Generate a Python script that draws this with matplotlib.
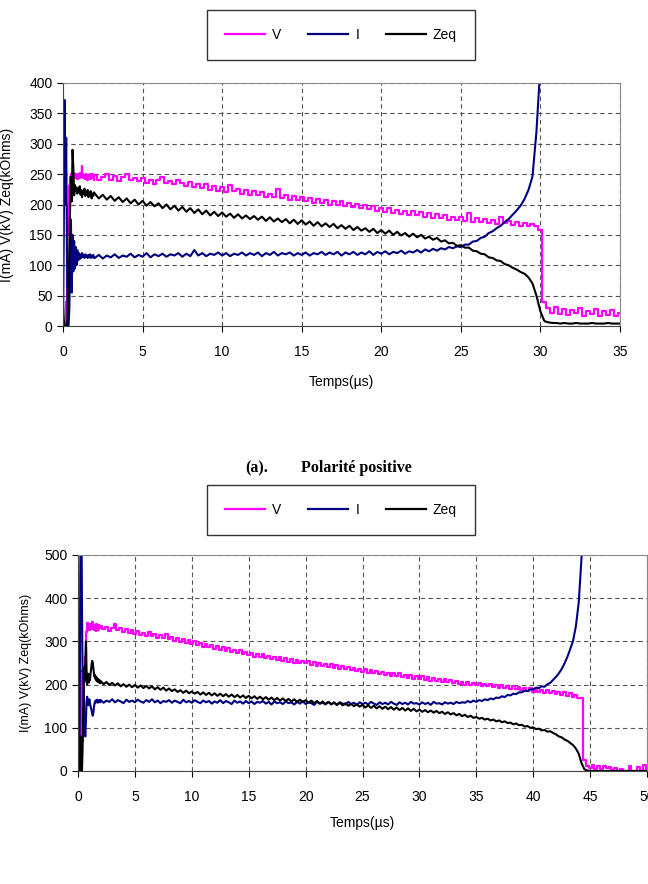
import numpy as np
import matplotlib.pyplot as plt
from matplotlib.lines import Line2D

plt.rcParams['font.family'] = ['Liberation Sans', 'DejaVu Sans']

# time grids (µs): fine sampling for the start, coarser afterwards
t_early = np.arange(40) * 0.05
dt = 0.25

# ---- (a) polarite positive ----
v_a_early = [0, 0, 0, 0, 40, 90, 150, 200, 230, 245, 240, 250, 245, 252, 248, 244, 250, 246, 242, 250,
             248, 244, 252, 246, 264, 250, 244, 248, 242, 250, 246, 240, 248, 244, 250, 242, 246, 250, 244, 240]
v_a_late = [248, 240, 246, 250, 241, 247, 239, 245, 250, 240, 244, 238,
            243, 236, 241, 234, 240, 245, 235, 239, 233, 240, 236, 230,
            237, 229, 234, 227, 233, 224, 230, 222,
            228, 221, 232, 222, 226, 218, 224, 216,
            222, 215, 220, 212, 218, 213, 226, 211, 215, 208, 214, 207,
            212, 205, 210, 203, 209, 202, 207, 200, 206, 199, 205, 198,
            203, 196, 201, 194, 199, 192, 197, 190,
            195, 188, 194, 186, 191, 184, 190, 183,
            189, 182, 187, 180, 186, 178, 184, 177, 182, 175, 180, 174,
            180, 173, 186, 172, 178, 171, 176, 170,
            175, 168, 180, 169, 173, 166, 171, 165, 170, 164, 168, 164,
            158, 40, 30, 22, 32, 20, 28, 18, 26, 21, 30, 17, 25, 19, 28, 16, 24, 18, 27, 17, 22]

i_a_early = [0, 150, 372, 200, 310, 120, 0, 0, 30, 110, 175, 55, 150, 90, 140, 95, 130, 100, 125, 108,
             120, 110, 118, 112, 120, 114, 117, 112, 118, 114, 116, 112, 117, 113, 118, 112, 116, 113, 117, 112]
i_a_late = [112, 117, 111, 116, 113, 118, 112, 116, 114, 119, 113, 117,
            114, 120, 113, 118, 115, 119, 114, 118, 116, 120, 114, 119,
            115, 125, 116, 120, 115, 119, 117, 121,
            116, 120, 115, 119, 117, 121, 116, 120,
            117, 121, 115, 120, 117, 122, 116, 120, 118, 121, 116, 120,
            117, 121, 116, 120, 118, 122, 117, 121, 118, 122, 116, 121,
            118, 122, 117, 121, 118, 123, 117, 122,
            119, 123, 118, 122, 120, 124, 119, 123,
            121, 125, 121, 126, 123, 127, 124, 128, 126, 130, 128, 131,
            130, 134, 134, 139, 140, 145, 147, 153,
            156, 161, 165, 171, 176, 183, 190, 198, 209, 224, 246, 320,
            430]

z_a_early = [35, 10, 0, 0, 0, 0, 20, 60, 130, 200, 245, 205, 290, 260, 215, 232, 222, 228, 218, 226,
             220, 230, 216, 224, 212, 222, 218, 226, 214, 220, 216, 224, 212, 220, 214, 222, 210, 218, 214, 220]
z_a_late = [218, 210, 216, 208, 214, 206, 212, 204, 210, 202, 208, 200,
            206, 198, 204, 197, 202, 194, 200, 192, 198, 190, 196, 188,
            194, 186, 192, 184, 190, 182, 188, 181,
            187, 180, 185, 178, 184, 177, 182, 176,
            181, 175, 180, 173, 179, 172, 177, 171, 176, 169, 175, 168,
            174, 167, 172, 165, 171, 164, 169, 163, 168, 161, 166, 160,
            165, 158, 163, 157, 161, 155, 160, 153,
            158, 152, 157, 150, 155, 149, 153, 147,
            152, 146, 150, 144, 147, 142, 145, 139, 141, 136, 137, 132,
            133, 129, 129, 124, 123, 119, 118, 113,
            112, 108, 107, 102, 100, 96, 93, 89, 86, 80, 70, 50,
            24, 8, 6, 5, 5, 4, 5, 4, 4, 5, 4, 4, 4, 5, 4, 4, 4, 5, 4, 4, 4]

# ---- (b) second polarity ----
v_b_early = [0, 0, 0, 40, 130, 210, 232, 180, 70, 150, 220, 205, 225, 265, 300, 322, 336, 342, 330, 338,
             326, 340, 332, 336, 328, 344, 330, 335, 326, 338, 330, 334, 325, 340, 331, 336, 327, 338, 330, 335]
v_b_late = [336, 328, 333, 325, 331, 340, 326, 330, 322, 328, 320, 326,
            318, 324, 315, 320, 313, 322, 312, 317, 309, 315, 307, 318,
            305, 311, 302, 308, 299, 306, 297, 303,
            294, 300, 291, 297, 288, 294, 286, 292,
            283, 289, 279, 286, 277, 284, 275, 281, 272, 279, 270, 276,
            268, 274, 265, 271, 263, 270, 261, 267, 259, 265, 257, 263,
            255, 261, 253, 259, 251, 257, 249, 255,
            249, 254, 246, 252, 244, 250, 242, 248,
            241, 247, 239, 245, 237, 243, 235, 241, 233, 239, 231, 237,
            230, 236, 228, 234, 226, 232, 224, 230, 223, 228, 221, 227,
            220, 226, 218, 223, 216, 222, 214, 220,
            213, 219, 211, 217, 209, 215, 208, 214, 206, 212, 205, 210,
            203, 209, 202, 207, 200, 206, 199, 204, 198, 204, 197, 202,
            196, 201, 194, 200, 193, 199, 192, 197, 190, 196, 189, 194,
            187, 193, 186, 191, 184, 190, 183, 188, 181, 187, 180, 185,
            178, 184, 176, 182, 174, 180, 172, 176, 168, 170, 25, 12,
            8, 14, 5, 11, 4, 12, 6, 9, 3, 8, 0, 5,
            0, 0, 12, 0, 0, 10, 0, 14, 0]

i_b_early = [0, 0, 0, 120, 450, 620, 600, 380, 230, 235, 190, 120, 85, 80, 120, 160, 172, 165, 152, 160,
             166, 158, 150, 145, 138, 132, 128, 135, 148, 156, 162, 158, 164, 160, 165, 158, 163, 160, 164, 159]
i_b_late = [164, 158, 163, 160, 166, 159, 164, 161, 157, 165, 160, 163,
            159, 165, 161, 158, 164, 160, 166, 159, 163, 157, 162, 160,
            164, 158, 163, 160, 157, 165, 159, 162,
            158, 164, 160, 157, 163, 159, 162, 156,
            161, 158, 164, 157, 162, 159, 155, 163, 158, 161, 156, 162,
            157, 161, 155, 160, 158, 162, 156, 160, 154, 161, 157, 159,
            155, 161, 157, 159, 154, 160, 156, 162,
            155, 159, 157, 153, 160, 156, 158, 154,
            160, 155, 158, 153, 159, 156, 154, 160, 155, 158, 153, 159,
            155, 158, 154, 160, 156, 153, 159, 155, 158, 154, 160, 156,
            153, 159, 155, 158, 154, 160, 156, 157,
            154, 159, 155, 158, 153, 160, 156, 157, 154, 159, 156, 158,
            155, 160, 157, 159, 158, 162, 159, 163, 160, 164, 162, 166,
            164, 168, 166, 170, 169, 173, 171, 176, 175, 179, 178, 182,
            182, 186, 185, 189, 189, 193, 192, 196, 195, 201, 204, 211,
            218, 226, 236, 249, 264, 282, 301, 335, 390, 495, 620]

z_b_early = [0, 0, 0, 0, 30, 80, 20, 0, 50, 130, 200, 240, 210, 260, 300, 235, 200, 212, 225, 205,
             218, 210, 226, 235, 248, 255, 250, 238, 226, 218, 222, 212, 218, 208, 214, 206, 212, 205, 210, 203]
z_b_late = [208, 201, 206, 199, 204, 198, 203, 196, 201, 195, 200, 194,
            199, 193, 198, 192, 197, 191, 196, 189, 194, 188, 193, 186,
            191, 185, 189, 183, 187, 181, 186, 180,
            184, 179, 183, 177, 182, 176, 181, 175,
            180, 174, 179, 173, 178, 172, 177, 171, 176, 170, 175, 169,
            174, 168, 173, 167, 172, 166, 171, 165, 170, 164, 169, 163,
            168, 162, 167, 161, 166, 160, 165, 159,
            164, 158, 163, 157, 162, 156, 161, 155,
            160, 154, 159, 153, 158, 152, 157, 151, 155, 150, 154, 149,
            153, 147, 152, 146, 151, 145, 150, 144, 149, 143, 148, 142,
            147, 141, 146, 140, 145, 139, 144, 138,
            142, 137, 141, 136, 140, 135, 139, 134, 137, 132, 136, 131,
            134, 129, 132, 127, 130, 125, 128, 123, 125, 121, 123, 119,
            121, 117, 119, 115, 117, 113, 115, 111, 112, 108, 110, 106,
            107, 103, 104, 100, 101, 97, 98, 94, 95, 91, 92, 88,
            85, 80, 78, 73, 70, 65, 60, 52, 40, 18, 4, 1,
            0, 0, 0, 0, 0, 0, 0, 0, 0, 0, 0, 0,
            0, 0, 0, 0, 0, 0, 0, 0, 0]

C_V = '#ff00ff'
C_I = '#000080'
C_Z = '#000000'


def series_time(late):
    return np.concatenate([t_early, 2 + np.arange(len(late)) * dt])


def draw(ax, v_e, v_l, i_e, i_l, z_e, z_l, xmax, ymax, ystep, lab_size, ylab_x, xlab_y):
    ax.plot(series_time(v_l), v_e + v_l, color=C_V, lw=1.6, drawstyle='steps-mid')
    ax.plot(series_time(i_l), i_e + i_l, color=C_I, lw=1.5)
    ax.plot(series_time(z_l), z_e + z_l, color=C_Z, lw=1.5)
    ax.set_xlim(0, xmax)
    ax.set_ylim(0, ymax)
    ax.set_xticks(np.arange(0, xmax + 1, 5))
    ax.set_yticks(np.arange(0, ymax + 1, ystep))
    ax.grid(True, color='#555555', linestyle=(0, (4, 3)), lw=0.8)
    for s in ax.spines.values():
        s.set_color('#888888')
    ax.spines['left'].set_color('#444444')
    ax.spines['bottom'].set_color('#444444')
    ax.tick_params(axis='x', direction='out', length=4, pad=10, labelsize=10)
    ax.tick_params(axis='y', direction='out', length=4, pad=3.5, labelsize=10)
    ax.set_ylabel('I(mA) V(kV) Zeq(kOhms)', fontsize=lab_size)
    ax.yaxis.set_label_coords(ylab_x, 0.5)
    ax.set_xlabel('Temps(µs)', fontsize=10)
    ax.xaxis.set_label_coords(0.5, xlab_y)


fig = plt.figure(figsize=(6.48, 8.84), dpi=100)
W, H = 648, 884
ax1 = fig.add_axes([63 / W, 1 - 326 / H, (620 - 63) / W, (326 - 83) / H])
ax2 = fig.add_axes([78 / W, 1 - 771 / H, (647 - 78) / W, (771 - 555) / H])

draw(ax1, v_a_early, v_a_late, i_a_early, i_a_late, z_a_early, z_a_late, 35, 400, 50, 10, -0.088, -0.2)
draw(ax2, v_b_early, v_b_late, i_b_early, i_b_late, z_b_early, z_b_late, 50, 500, 100, 9, -0.08, -0.21)

handles = [Line2D([], [], color=C_V, lw=1.6), Line2D([], [], color=C_I, lw=1.6), Line2D([], [], color=C_Z, lw=1.6)]
for yc in (1 - 35 / H, 1 - 510 / H):
    leg = fig.legend(handles, ['V', 'I', 'Zeq'], loc='center', bbox_to_anchor=(341 / W, yc),
                     ncol=3, fontsize=10, handlelength=2.9, handletextpad=0.5, columnspacing=1.9,
                     borderpad=1.3, frameon=True, fancybox=False, edgecolor='black')
    leg.get_frame().set_linewidth(1.0)

fig.text(245 / W, 1 - 468 / H, '(a).', family='Liberation Serif', weight='bold', fontsize=11.5, va='center')
fig.text(301 / W, 1 - 468 / H, 'Polarité positive', family='Liberation Serif', weight='bold', fontsize=11.5, va='center')

fig.savefig('out.png', dpi=100)
